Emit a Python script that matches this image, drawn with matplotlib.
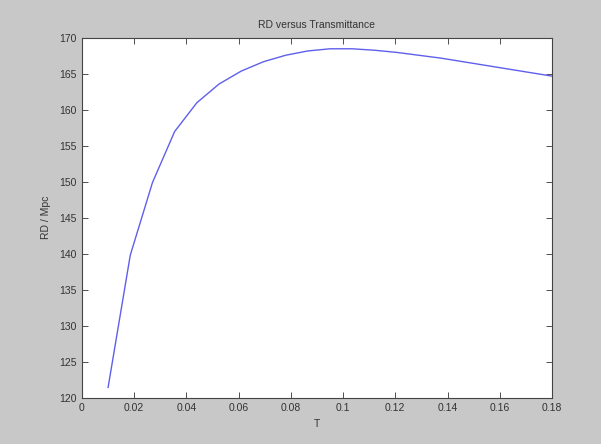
import numpy as np
import matplotlib
matplotlib.use('Agg')
import matplotlib.pyplot as plt
matplotlib.rcParams['font.family'] = ['Liberation Sans', 'DejaVu Sans']

# Sound horizon distance versus transmittance
T = np.linspace(0.01, 0.18, 21)
RD = [121.4, 139.8, 149.9, 157.0, 161.0, 163.6, 165.4, 166.7, 167.6, 168.2,
      168.5, 168.5, 168.3, 168.0, 167.6, 167.2, 166.7, 166.2, 165.7, 165.2,
      164.7]

x_ticks = [0, 0.02, 0.04, 0.06, 0.08, 0.1, 0.12, 0.14, 0.16, 0.18]
x_labels = ['0', '0.02', '0.04', '0.06', '0.08', '0.1', '0.12', '0.14', '0.16', '0.18']
y_ticks = [120, 125, 130, 135, 140, 145, 150, 155, 160, 165, 170]

fig = plt.figure(figsize=(6.01, 4.44), dpi=100, facecolor='#c8c8c8')
ax = fig.add_axes([0.1364, 0.1047, 0.782, 0.8097])
ax.set_facecolor('white')

ax.plot(T, RD, color='#5f5fec', linewidth=1.0)

ax.set_xlim(0, 0.18)
ax.set_ylim(120, 170)
ax.set_xticks(x_ticks)
ax.set_xticklabels(x_labels)
ax.set_yticks(y_ticks)

ax.tick_params(direction='in', length=4, width=0.6, labelsize=7.5,
               colors='#333333', top=True, right=True, pad=4)
for s in ax.spines.values():
    s.set_color('#444444')
    s.set_linewidth(0.8)

ax.set_title('RD versus Transmittance', fontsize=7.5, color='#333333', pad=7)
ax.set_xlabel('T', fontsize=7.5, color='#333333', labelpad=4)
ax.set_ylabel('RD / Mpc', fontsize=7.5, color='#333333', labelpad=6)

plt.savefig('out.png', dpi=100, facecolor=fig.get_facecolor())
